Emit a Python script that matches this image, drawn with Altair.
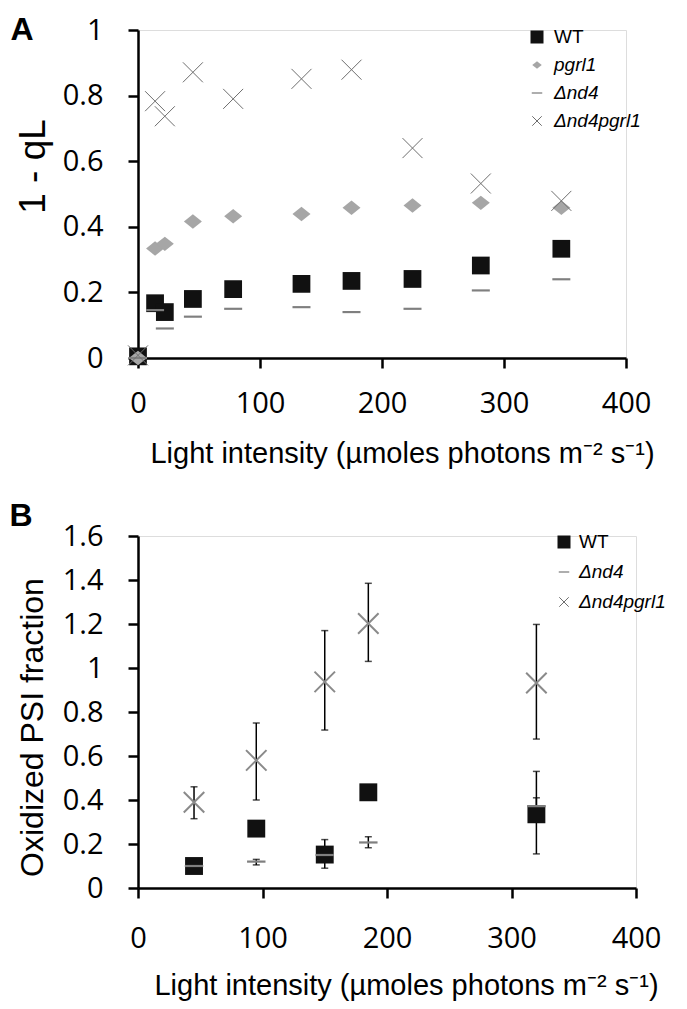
import altair as alt
import pandas as pd

# ---------------- Panel A data (1 - qL) ----------------
A_LIGHT = [0, 14, 22, 45, 78, 134, 175, 225, 281, 347]
A_WT = [0.005, 0.167, 0.14, 0.18, 0.21, 0.226, 0.235, 0.241, 0.282, 0.333]
A_PGRL1 = [0.0, 0.334, 0.348, 0.416, 0.432, 0.439, 0.458, 0.465, 0.473, 0.458]
A_ND4 = [0.0, 0.146, 0.09, 0.126, 0.15, 0.155, 0.14, 0.15, 0.206, 0.24]
A_ND4PGRL1 = [0.008, 0.783, 0.737, 0.871, 0.79, 0.851, 0.879, 0.64, 0.532, 0.479]

# ---------------- Panel B data (oxidized PSI fraction) ----------------
B_LIGHT = [45, 95, 150, 185, 320]
B_WT = [0.10, 0.27, 0.152, 0.435, 0.335]
B_WT_LO = [None, None, 0.09, None, 0.155]
B_WT_HI = [None, None, 0.22, None, 0.53]
B_ND4 = [0.10, 0.12, 0.15, 0.207, 0.372]
B_ND4_LO = [None, 0.105, None, 0.183, 0.34]
B_ND4_HI = [None, 0.13, None, 0.233, 0.41]
B_ND4PGRL1 = [0.39, 0.58, 0.937, 1.202, 0.932]
B_ND4PGRL1_LO = [0.315, 0.40, 0.718, 1.03, 0.677]
B_ND4PGRL1_HI = [0.46, 0.75, 1.17, 1.385, 1.198]

X_TICKS = [0, 100, 200, 300, 400]
A_Y_TICKS = [0, 0.2, 0.4, 0.6, 0.8, 1]
B_Y_TICKS = [0, 0.2, 0.4, 0.6, 0.8, 1, 1.2, 1.4, 1.6]

X_TITLE = "Light intensity (µmoles photons m⁻² s⁻¹)"

SQUARE = "square"
DIAMOND = "M-1,0L0,-0.8L1,0L0,0.8Z"
DASH = "M-1,-0.12L1,-0.12L1,0.12L-1,0.12Z"
XMARK = "M-1,-1L1,1M-1,1L1,-1"

C_WT = "#111111"
C_PGRL1 = "#a6a6a6"
C_ND4 = "#7f7f7f"
C_XA = "#6e6e6e"
C_XB = "#8a8a8a"

LABEL_FONT = "Open Sans"
TEXT_FONT = "Liberation Sans"


def axis_common(**kw):
    base = dict(grid=False, domainColor="black", domainWidth=2.5, tickColor="black",
                tickWidth=2.5, tickSize=10, labelFont=LABEL_FONT, labelFontSize=29,
                labelColor="black", titleFont=TEXT_FONT, titleFontWeight="normal",
                titleColor="black", labelFlush=False, labelOverlap=False)
    base.update(kw)
    return alt.Axis(**base)


def points(xs_vals, ys_vals, shape, size, color, xenc, yenc, filled=True, sw=1):
    df = pd.DataFrame({"x": xs_vals, "y": ys_vals})
    return alt.Chart(df).mark_point(shape=shape, size=size, filled=filled, color=color,
                                    opacity=1, strokeWidth=sw).encode(x=xenc, y=yenc)


def legend_layers(entries, x0, y0, dy, text_dx):
    layers = []
    one = pd.DataFrame({"k": [0]})
    for i, (label, shape, size, color, filled, sw, italic) in enumerate(entries):
        yy = y0 + i * dy
        layers.append(alt.Chart(one).mark_point(shape=shape, size=size, filled=filled,
                                                color=color, opacity=1, strokeWidth=sw)
                      .encode(x=alt.value(x0), y=alt.value(yy)))
        layers.append(alt.Chart(one).mark_text(text=label, font=TEXT_FONT, fontSize=19,
                                               fontStyle="italic" if italic else "normal",
                                               align="left", baseline="middle", color="black")
                      .encode(x=alt.value(x0 + text_dx), y=alt.value(yy)))
    return layers


def panel_letter(letter, x, y):
    return alt.Chart(pd.DataFrame({"k": [0]})).mark_text(
        text=letter, font=TEXT_FONT, fontSize=32, fontWeight="bold", align="center",
        baseline="middle", color="black").encode(x=alt.value(x), y=alt.value(y))


# ---------------- Panel A ----------------
A_W, A_H = 488, 328
xA = alt.X("x:Q", scale=alt.Scale(domain=[0, 400], nice=False, zero=False),
           axis=axis_common(values=X_TICKS, title=X_TITLE, titleFontSize=29,
                            labelPadding=21, titlePadding=21, titleX=264))
yA = alt.Y("y:Q", scale=alt.Scale(domain=[0, 1], nice=False, zero=False),
           axis=axis_common(values=A_Y_TICKS, format="~g", title="1 - qL", titleFontSize=37,
                            labelPadding=25, titlePadding=10, titleY=136))

layersA = [
    points(A_LIGHT, A_WT, SQUARE, 315, C_WT, xA, yA),
    points(A_LIGHT, A_PGRL1, DIAMOND, 324, C_PGRL1, xA, yA),
    points(A_LIGHT, A_ND4, DASH, 324, C_ND4, xA, yA),
    points(A_LIGHT, A_ND4PGRL1, XMARK, 400, C_XA, xA, yA, filled=False, sw=1),
]
legendA = legend_layers([
    ("WT", SQUARE, 169, C_WT, True, 1, False),
    ("pgrl1", DIAMOND, 90, C_PGRL1, True, 1, True),
    ("Δnd4", DASH, 110, C_ND4, True, 1, True),
    ("Δnd4pgrl1", XMARK, 90, C_XA, False, 1, True),
], x0=399, y0=7, dy=28, text_dx=17)

panelA = alt.layer(*layersA, *legendA, panel_letter("A", -116, 0)).properties(
    width=A_W, height=A_H)

# ---------------- Panel B ----------------
B_W, B_H = 498, 352
B_YAXIS = dict(values=B_Y_TICKS, format="~g", title="Oxidized PSI fraction",
               titleFontSize=32, labelPadding=25, titlePadding=13, titleY=191)
xB = alt.X("x:Q", scale=alt.Scale(domain=[0, 400], nice=False, zero=False),
           axis=axis_common(values=X_TICKS, title=X_TITLE, titleFontSize=29,
                            labelPadding=26, titlePadding=18, titleX=268))
yB = alt.Y("y:Q", scale=alt.Scale(domain=[0, 1.6], nice=False, zero=False),
           axis=axis_common(**B_YAXIS))


def errbars(xv, lo, hi):
    rows = [(x, l, h) for x, l, h in zip(xv, lo, hi) if l is not None and h is not None]
    df = pd.DataFrame(rows, columns=["x", "lo", "hi"])
    return alt.Chart(df).mark_errorbar(ticks=True, size=7, thickness=1.5, color="black").encode(
        x=xB, y=alt.Y("lo:Q", scale=alt.Scale(domain=[0, 1.6], nice=False, zero=False),
                      axis=axis_common(**B_YAXIS)),
        y2="hi:Q")


layersB = [
    errbars(B_LIGHT, B_WT_LO, B_WT_HI),
    errbars(B_LIGHT, B_ND4_LO, B_ND4_HI),
    errbars(B_LIGHT, B_ND4PGRL1_LO, B_ND4PGRL1_HI),
    points(B_LIGHT, B_WT, SQUARE, 320, C_WT, xB, yB),
    points(B_LIGHT, B_ND4, DASH, 340, C_ND4, xB, yB),
    points(B_LIGHT, B_ND4PGRL1, XMARK, 420, C_XB, xB, yB, filled=False, sw=2),
]
legendB = legend_layers([
    ("WT", SQUARE, 169, C_WT, True, 1, False),
    ("Δnd4", DASH, 110, C_ND4, True, 1, True),
    ("Δnd4pgrl1", XMARK, 90, C_XA, False, 1, True),
], x0=426, y0=6, dy=30, text_dx=15)

panelB = alt.layer(*layersB, *legendB, panel_letter("B", -117, -20)).properties(
    width=B_W, height=B_H)

chart = alt.vconcat(panelA, panelB, spacing=30).properties(
    padding={"left": 0, "top": 5, "right": 0, "bottom": 0}
).configure_view(stroke=None).configure(font=TEXT_FONT, background="white")

chart.save("out.html", embed_options={"renderer": "svg", "actions": False})
